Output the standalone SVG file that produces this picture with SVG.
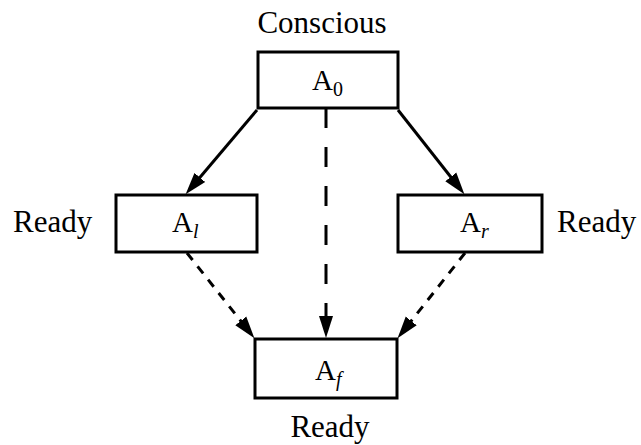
<svg xmlns="http://www.w3.org/2000/svg" width="641" height="445" viewBox="0 0 641 445">
<defs>
<style>
.box{fill:#fff;stroke:#000;stroke-width:3}
.lbl{font-family:"Liberation Serif","Times New Roman",serif;font-size:31px;fill:#000}
.nm{font-family:"Liberation Serif","Times New Roman",serif;font-size:29px;fill:#000}
.sub{font-size:20px}
.ln{stroke:#000;stroke-width:3;fill:none}
.d1{stroke-dasharray:20 19}
.d2{stroke-dasharray:9 8}
</style>
<marker id="ah" markerUnits="userSpaceOnUse" markerWidth="24" markerHeight="16" viewBox="0 -8 24 16" refX="1" refY="0" orient="auto">
<path d="M0,-7 L22,0 L0,7 z" fill="#000"/>
</marker>
</defs>
<g id="connectors">
<line class="ln" x1="257" y1="110" x2="199.2" y2="178.2" marker-end="url(#ah)"/>
<line class="ln" x1="398" y1="110" x2="451.4" y2="177.7" marker-end="url(#ah)"/>
<line class="ln d1" x1="326" y1="108" x2="326" y2="317" marker-end="url(#ah)"/>
<line class="ln d2" x1="187" y1="253" x2="241.4" y2="321.7" marker-end="url(#ah)"/>
<line class="ln d2" x1="465" y1="253" x2="410.6" y2="321.7" marker-end="url(#ah)"/>
</g>
<g id="A0">
<text class="lbl" x="322" y="33" text-anchor="middle">Conscious</text>
<rect class="box" x="258" y="52" width="140" height="56"/>
<text class="nm" x="312" y="90">A<tspan class="sub" dy="6">0</tspan></text>
</g>
<g id="Al">
<text class="lbl" x="13" y="232">Ready</text>
<rect class="box" x="116" y="195" width="141" height="57"/>
<text class="nm" x="172" y="232">A<tspan class="sub" dy="6" font-style="italic">l</tspan></text>
</g>
<g id="Ar">
<rect class="box" x="398" y="195" width="144" height="57"/>
<text class="nm" x="460" y="232">A<tspan class="sub" dy="6" font-style="italic">r</tspan></text>
<text class="lbl" x="557" y="232">Ready</text>
</g>
<g id="Af">
<rect class="box" x="255" y="339" width="142" height="59"/>
<text class="nm" x="315" y="380">A<tspan class="sub" dy="6" font-style="italic">f</tspan></text>
<text class="lbl" x="330" y="437" text-anchor="middle">Ready</text>
</g>
</svg>
